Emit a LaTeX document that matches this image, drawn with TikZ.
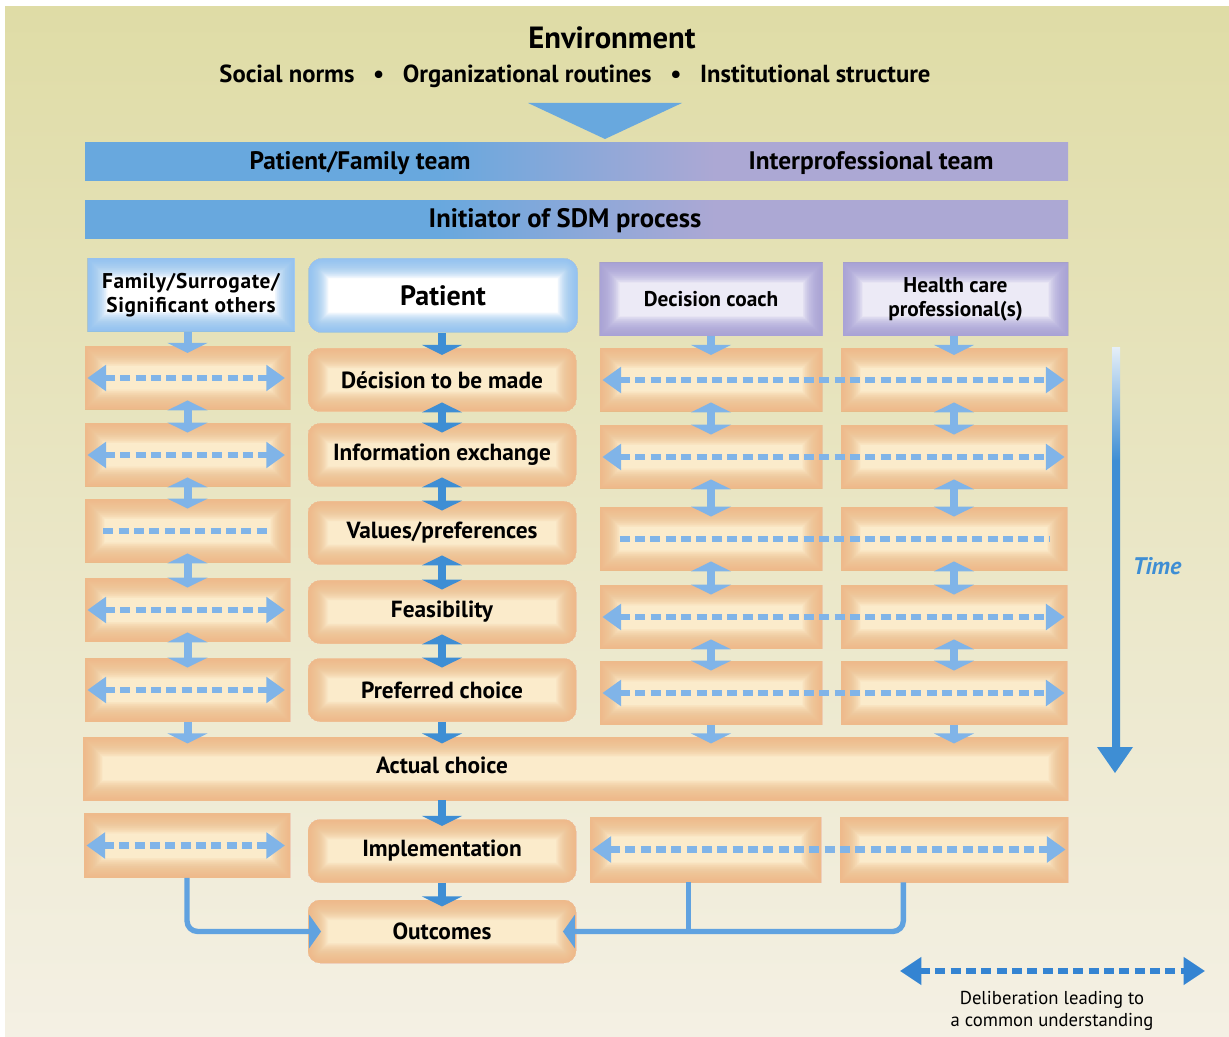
\documentclass[tikz,border=0pt]{standalone}
\usepackage{fontspec}
\setmainfont{PT Sans}
\usetikzlibrary{arrows.meta}

\definecolor{bgtop}{RGB}{223,220,166}
\definecolor{bgbot}{RGB}{244,240,228}
\definecolor{celledge}{RGB}{238,186,136}
\definecolor{cellmid}{RGB}{251,235,203}
\definecolor{headblue}{RGB}{140,192,240}
\definecolor{headlav}{RGB}{165,158,214}
\definecolor{lavmid}{RGB}{236,234,246}
\definecolor{teamblue}{RGB}{104,168,222}
\definecolor{teamlav}{RGB}{172,168,212}
\definecolor{patarrow}{RGB}{62,142,212}
\definecolor{sidearrow}{RGB}{128,180,232}
\definecolor{feedblue}{RGB}{96,162,224}
\definecolor{legendblue}{RGB}{52,132,210}
\definecolor{timepale}{RGB}{228,238,248}

\pgfdeclarehorizontalshading{teams}{100bp}{color(0bp)=(teamblue); color(43bp)=(teamblue); color(57bp)=(teamlav); color(100bp)=(teamlav)}
\pgfdeclareverticalshading{timeflow}{100bp}{color(0bp)=(patarrow); color(61bp)=(patarrow); color(75bp)=(timepale); color(100bp)=(timepale)}

\newcommand\cellfont{\bfseries\fontsize{17.5}{20}\selectfont}
\newcommand\headfont{\bfseries\fontsize{16}{18}\selectfont}

\tikzset{
  glow/.style={path picture={
      \foreach \w in {1,2,...,30}
        \draw[#1, line width=\w pt, opacity=0.065]
          (path picture bounding box.south west) rectangle (path picture bounding box.north east);}},
  sidecell/.style={fill=cellmid, glow=celledge, inner sep=0pt, minimum width=#1, minimum height=47.25pt},
  patcell/.style={fill=cellmid, glow=celledge, rounded corners=9pt, inner sep=0pt, minimum width=201pt, minimum height=47.25pt, font=\cellfont},
  famhead/.style={fill=white, glow=headblue, inner sep=0pt, align=center, minimum width=155.25pt, minimum height=54.75pt, font=\headfont\addfontfeature{LetterSpace=3}},
  prohead/.style={fill=lavmid, glow=headlav, inner sep=0pt, align=center, minimum width=#1, minimum height=54.75pt, font=\headfont},
  banner/.style={shade, shading=teams, inner sep=0pt, minimum width=737.25pt, minimum height=28.5pt},
  bannertext/.style={font=\bfseries\fontsize{19}{21}\selectfont},
  patdown/.style={-{Triangle[width=30pt,length=7.5pt]}, line width=6pt, draw=patarrow},
  patboth/.style={{Triangle[width=30pt,length=7.5pt]}-{Triangle[width=30pt,length=7.5pt]}, line width=6pt, draw=patarrow, shorten <=-7pt, shorten >=-7pt},
  sidedown/.style={patdown, draw=sidearrow},
  sideboth/.style={patboth, draw=sidearrow},
  delib/.style={{Triangle[width=19pt,length=14pt]}-{Triangle[width=19pt,length=14pt]}, line width=5pt, draw=sidearrow, dash pattern=on 7.5pt off 4pt},
  delibline/.style={line width=5pt, draw=sidearrow, dash pattern=on 7.5pt off 4pt},
  feed/.style={line width=4pt, draw=feedblue, rounded corners=8pt},
}

\begin{document}
\begin{tikzpicture}[x=0.75pt,y=0.75pt,yscale=-1]
\useasboundingbox (0,0) rectangle (1229,1037);

%Shape: background
\fill[top color=bgtop, bottom color=bgbot] (5,7) rectangle (1229,1037);

% Text Node
\node[font=\bfseries\fontsize{23}{25}\selectfont] (env) at (612,38) {Environment};
% Text Node
\node[font=\bfseries\fontsize{18.5}{20}\selectfont] (norms) at (575,76) {Social norms\hspace{14pt}\textbullet\hspace{14pt}Organizational routines\hspace{14pt}\textbullet\hspace{14pt}Institutional structure};
%Shape: Triangle
\fill[teamblue] (528,103) -- (682,103) -- (605,139) -- cycle;

%Banners
\node[banner] (teams) at (576.5,162) {};
\node[bannertext] (pfteam) at (360,163) {Patient/Family team};
\node[bannertext] (ipteam) at (871,163) {Interprofessional team};
\node[banner] (init) at (576.5,220) {};
\node[bannertext, font=\bfseries\fontsize{20}{22}\selectfont] (initlbl) at (565,221) {Initiator of SDM process};

%Headers
\node[famhead] (hfam) at (191,295) {Family/Surrogate/\\Significant others};
\node[fill=white, glow=headblue, rounded corners=10pt, minimum width=201.75pt, minimum height=55.5pt, font=\bfseries\fontsize{21}{23}\selectfont] (hpat) at (443,295.5) {Patient};
\node[prohead=167.25pt] (hcoach) at (711,299.5) {Decision coach};
\node[prohead=168.75pt] (hhcp) at (955.5,299.5) {Health care\\professional(s)};

%Side cells
\foreach \i/\y in {1/378,2/455,3/531,4/610,5/690}
  \node[sidecell=153.75pt] (fam\i) at (187.5,\y) {};
\foreach \i/\y in {1/380,2/457,3/539,4/617,5/693}
{
  \node[sidecell=166.5pt] (coach\i) at (711,\y) {};
  \node[sidecell=169.5pt] (hcp\i) at (954,\y) {};
}

%Patient cells
\node[patcell] (p1) at (442,380) {Décision to be made};
\node[patcell] (p2) at (442,455) {Information exchange};
\node[patcell] (p3) at (442,533) {Values/preferences};
\node[patcell] (p4) at (442,612) {Feasibility};
\node[patcell] (p5) at (442,690) {Preferred choice};

\node[sidecell=738.75pt] (actual) at (575.5,768.5) {};
\node[font=\cellfont] (actlbl) at (442,765) {Actual choice};

\node[sidecell=154.5pt, minimum height=48pt] (fam6) at (187,845.5) {};
\node[patcell] (impl) at (442,851) {Implementation};
\node[sidecell=173.25pt, minimum height=48.75pt] (coach6) at (705.5,849.5) {};
\node[sidecell=171pt, minimum height=48.75pt] (hcp6) at (954,849.5) {};
\node[patcell] (out) at (442,931.5) {Outcomes};

%Patient arrows
\draw[patdown, shorten >=-5pt] (hpat.south -| p1.north) -- (p1.north);
\foreach \a/\b in {p1/p2,p2/p3,p3/p4,p4/p5}
  \draw[patboth] (\a.south) -- (\b.north);
\draw[patdown, shorten >=-5pt] (p5.south) -- (actual.north -| p5.south);
\draw[patdown, shorten >=-5pt] (actual.south -| impl.north) -- (impl.north);
\draw[patdown, shorten >=-5pt] (impl.south) -- (out.north);

%Side arrows
\foreach \col in {fam,coach,hcp}
{
  \draw[sidedown, shorten >=-5pt] (h\col.south -| \col1.north) -- (\col1.north);
  \foreach \a/\b in {1/2,2/3,3/4,4/5}
    \draw[sideboth] (\col\a.south) -- (\col\b.north);
  \draw[sidedown, shorten >=-5pt] (\col5.south) -- (actual.north -| \col5.south);
}

%Deliberation
\foreach \i in {1,2,4,5,6}
{
  \draw[delib, shorten <=2pt, shorten >=4pt] (fam\i.west) -- (fam\i.east);
  \draw[delib, shorten <=2pt, shorten >=2pt] (coach\i.west) -- (hcp\i.east);
}
\draw[delibline, shorten <=14pt, shorten >=16pt] (fam3.west) -- (fam3.east);
\draw[delibline, shorten <=15pt, shorten >=13pt] (coach3.west) -- (hcp3.east);

%Feedback to outcomes
\draw[feed, -{Triangle[width=25pt,length=9pt]}, shorten >=-10pt] (fam6.south) |- (out.west);
\draw[feed, -{Triangle[width=25pt,length=9pt]}, shorten >=-10pt] ([xshift=-38pt]hcp6.south) |- (out.east);
\draw[feed] ([xshift=-13pt]coach6.south) -- ([xshift=-13pt]coach6.south |- out.east);

%Time
\shade[shading=timeflow] (1112,348) rectangle (1120,750);
\fill[patarrow] (1097,747) -- (1133,747) -- (1115,773) -- cycle;
\node[font=\bfseries\itshape\fontsize{18}{20}\selectfont, text=patarrow] (timelbl) at (1157,566) {Time};

%Legend
\coordinate (legL) at (900,971);
\coordinate (legR) at (1205,971);
\draw[delib, draw=legendblue, {Triangle[width=20pt,length=16pt]}-{Triangle[width=20pt,length=16pt]}] (legL) -- (legR);
\node[align=center, font=\fontsize{14}{17}\selectfont] (legtxt) at (1052,1011) {Deliberation leading to\\a common understanding};

\end{tikzpicture}
\end{document}
